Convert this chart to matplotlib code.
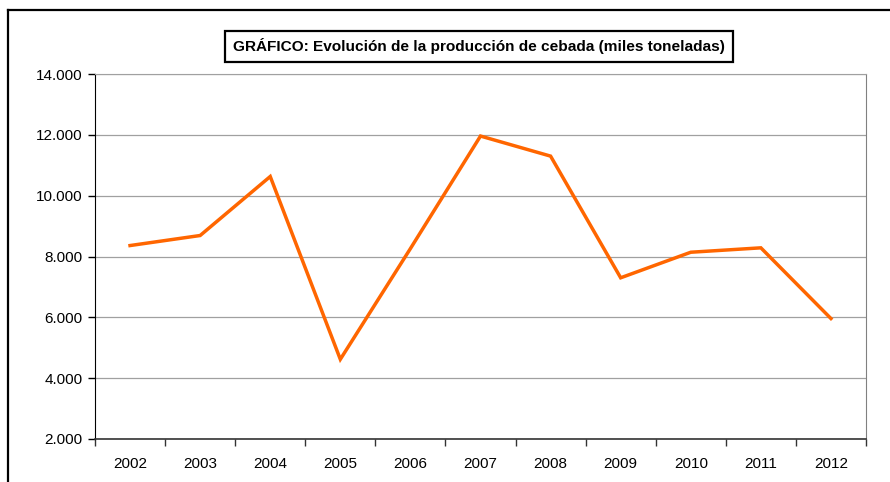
import matplotlib
matplotlib.use("Agg")
from matplotlib import pyplot as plt
from matplotlib.lines import Line2D
from matplotlib.ticker import FuncFormatter

plt.rcParams['font.family'] = ['Liberation Sans', 'DejaVu Sans']

years = ['2002', '2003', '2004', '2005', '2006', '2007',
         '2008', '2009', '2010', '2011', '2012']
produccion = [8360, 8690, 10630, 4620, 8260, 11960,
              11300, 7300, 8140, 8285, 5960]
y_ticks = [2000, 4000, 6000, 8000, 10000, 12000, 14000]
titulo = 'GRÁFICO: Evolución de la producción de cebada (miles toneladas)'

W, H = 890, 482
fig = plt.figure(figsize=(W / 100, H / 100), dpi=100)
ax = fig.add_axes([95 / W, (H - 439) / H, 771 / W, 365 / H])

x = list(range(len(years)))
ax.plot(x, produccion, color='#FF6600', lw=2.5, solid_joinstyle='miter', zorder=3)

ax.set_xlim(-0.5, len(years) - 0.5)
ax.set_ylim(2000, 14000)
ax.set_yticks(y_ticks)
ax.yaxis.set_major_formatter(FuncFormatter(lambda v, p: '{:,.0f}'.format(v).replace(',', '.')))
ax.grid(axis='y', color='#a0a0a0', lw=0.9)
ax.set_axisbelow(True)

# category axis: ticks between the categories, labels in the middle
ax.set_xticks([i - 0.5 for i in range(len(years) + 1)])
ax.set_xticklabels([])
ax.set_xticks(x, minor=True)
ax.set_xticklabels(years, minor=True)
ax.tick_params(axis='x', which='minor', length=0, pad=13, labelsize=11)
ax.tick_params(axis='x', which='major', length=5, width=1, color='#333333')
ax.tick_params(axis='y', length=5, width=1, pad=4, labelsize=11)

ax.spines['left'].set_color('black')
ax.spines['bottom'].set_color('#333333')
ax.spines['bottom'].set_linewidth(1.2)
ax.spines['right'].set_color('#808080')
ax.spines['top'].set_color('#a0a0a0')

# outer frame of the chart
fig.add_artist(Line2D([8 / W, 8 / W], [0, 1 - 10 / H], color='black', lw=1.6))
fig.add_artist(Line2D([8 / W, 1], [1 - 10 / H, 1 - 10 / H], color='black', lw=1.6))

fig.text(479 / W, 1 - 46.5 / H, titulo, ha='center', va='center',
         fontsize=11.1, fontweight='bold',
         bbox=dict(boxstyle='square,pad=0.5', fc='white', ec='black', lw=1.6))

fig.savefig('out.png', dpi=100)
